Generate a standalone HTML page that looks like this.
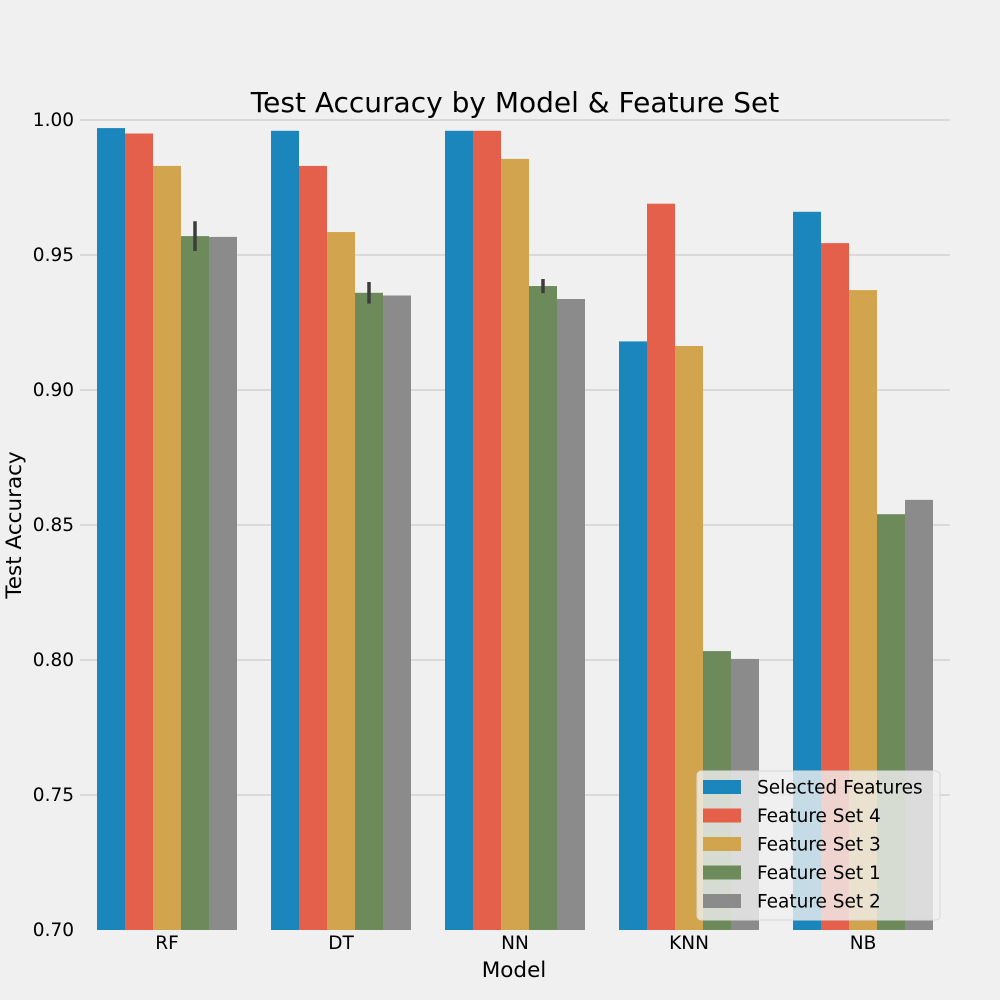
<!DOCTYPE html>
<html><head><meta charset="utf-8"><style>
html,body{margin:0;padding:0;background:#f0f0f0;}
svg{display:block;font-family:"DejaVu Sans","Liberation Sans",sans-serif;}
</style></head><body>
<svg id="chart" width="1000" height="1000" viewBox="0 0 1000 1000">
<rect x="0" y="0" width="1000" height="1000" fill="#f0f0f0"/>
<g id="grid"></g><g id="bars"></g><g id="errs"></g><g id="axes"></g>
<text x="515" y="112" text-anchor="middle" font-size="28" fill="#000">Test Accuracy by Model &amp; Feature Set</text>
<text x="514" y="977" text-anchor="middle" font-size="21.5" fill="#000">Model</text>
<text transform="translate(21,525) rotate(-90)" text-anchor="middle" font-size="21.5" fill="#000">Test Accuracy</text>
<g id="legend"></g>
</svg>
<script>
const models = ["RF","DT","NN","KNN","NB"];
const seriesNames = ["Selected Features","Feature Set 4","Feature Set 3","Feature Set 1","Feature Set 2"];
const selectedFeatures = [0.997,0.996,0.996,0.918,0.966];
const featureSet4 = [0.995,0.983,0.996,0.969,0.9544];
const featureSet3 = [0.983,0.9585,0.9856,0.9163,0.937];
const featureSet1 = [0.957,0.936,0.9385,0.8033,0.854];
const featureSet2 = [0.9567,0.935,0.9337,0.8004,0.8593];
const featureSet1Err = [0.0055,0.004,0.0026,0,0];
const yTicks = [0.70,0.75,0.80,0.85,0.90,0.95,1.00];
const seriesValues = [selectedFeatures,featureSet4,featureSet3,featureSet1,featureSet2];
const colors = ["#1a86bb","#e5604a","#d1a44d","#6d8a5a","#8b8b8b"];
const NS="http://www.w3.org/2000/svg";
const yMin=0.70,yMax=1.00,yTop=120,yBot=930,xL=80,xR=950;
const y=v=>yBot-(v-yMin)/(yMax-yMin)*(yBot-yTop);
const band=(xR-xL)/models.length, bw=28;
const xc=i=>xL+band*(i+0.5);
function mk(tag,attrs,parent){const e=document.createElementNS(NS,tag);for(const k in attrs)e.setAttribute(k,attrs[k]);document.getElementById(parent).appendChild(e);return e;}
yTicks.forEach(t=>{
  if(t>yMin){const l=mk('line',{x1:xL,x2:xR,y1:y(t),y2:y(t),stroke:'#cbcbcb','stroke-width':1.2},'grid');
  
  }
  const tx=mk('text',{x:74,y:y(t)+6,'text-anchor':'end','font-size':18.5,fill:'#000'},'axes');
  tx.textContent=t.toFixed(2);
  
  
});
models.forEach((m,i)=>{
  const tx=mk('text',{x:xc(i),y:949,'text-anchor':'middle','font-size':18.5,fill:'#000'},'axes');
  tx.textContent=m;
  
  
  seriesValues.forEach((vals,s)=>{
    const x0=xc(i)-2.5*bw+s*bw;
    const r=mk('rect',{x:x0,y:y(vals[i]),width:bw,height:yBot-y(vals[i]),fill:colors[s]},'bars');
    
    
  });
  if(featureSet1Err[i]>0){
    const cx=xc(i)-2.5*bw+3*bw+bw/2;
    const e=mk('line',{x1:cx,x2:cx,y1:y(featureSet1[i]+featureSet1Err[i]),y2:y(featureSet1[i]-featureSet1Err[i]),stroke:'#3c3c3c','stroke-width':3.5},'errs');
    
    
  }
});
const lg=mk('rect',{x:697,y:771,width:243,height:149,rx:4,fill:'#f0f0f0','fill-opacity':0.8,stroke:'#d8d8d8'},'legend');


seriesNames.forEach((n,s)=>{
  const yy=787+s*28.5;
  const p=mk('rect',{x:703,y:yy-7,width:38,height:14,fill:colors[s]},'legend');
  
  
  const t=mk('text',{x:757,y:yy+6.5,'font-size':18.5,fill:'#000'},'legend');
  t.textContent=n;
  
  
});
</script>
</body></html>
